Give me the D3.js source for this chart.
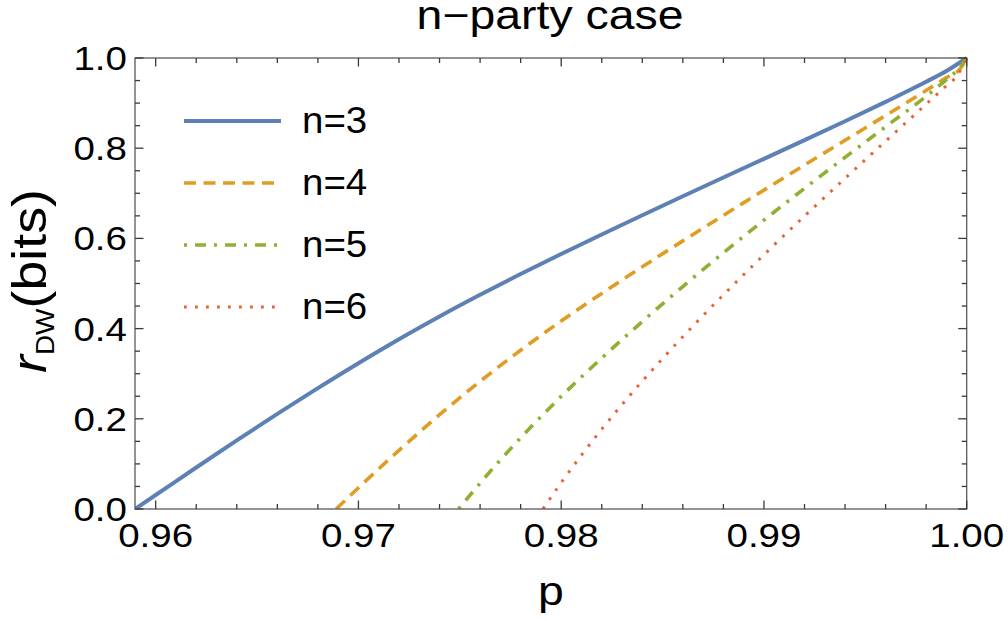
<!DOCTYPE html>
<html>
<head>
<meta charset="utf-8">
<script src="https://cdn.jsdelivr.net/npm/d3@7"></script>
<style>
  html, body { margin: 0; padding: 0; background: #fff; }
  svg { display: block; }
  text { font-family: "Liberation Sans", Arial, sans-serif; fill: #000; }
</style>
</head>
<body>
<svg id="chart" width="1008" height="621"></svg>
<script>
// Key rate r_DW (bits) versus p for the n-party case
const p3 = [0.95898, 0.960, 0.962, 0.964, 0.966, 0.968, 0.970, 0.972, 0.974, 0.976, 0.978, 0.980, 0.982, 0.984, 0.986, 0.988, 0.990, 0.992, 0.994, 0.996, 0.998, 0.999, 1.000];
const r3 = [0, 0.031, 0.092, 0.152, 0.211, 0.268, 0.3233, 0.3765, 0.4269, 0.4749, 0.5209, 0.5654, 0.6088, 0.6514, 0.6934, 0.735, 0.7764, 0.8178, 0.8598, 0.9028, 0.9474, 0.9712, 1.0];

const p4 = [0.9689, 0.970, 0.972, 0.974, 0.976, 0.978, 0.980, 0.982, 0.984, 0.986, 0.988, 0.990, 0.992, 0.994, 0.996, 0.998, 0.999, 0.9997, 1.0];
const r4 = [0, 0.047, 0.130, 0.209, 0.283, 0.352, 0.417, 0.478, 0.537, 0.5945, 0.651, 0.707, 0.7625, 0.8175, 0.8725, 0.928, 0.9565, 0.9775, 1.0];

const p5 = [0.97494, 0.976, 0.977, 0.978, 0.979, 0.980, 0.982, 0.984, 0.986, 0.988, 0.990, 0.992, 0.994, 0.996, 0.998, 0.999, 0.9996, 1.0];
const r5 = [0, 0.0572, 0.1087, 0.1577, 0.2047, 0.2497, 0.3347, 0.4157, 0.4933, 0.5681, 0.6405, 0.7109, 0.7797, 0.8475, 0.9151, 0.952, 0.976, 1.0];

const p6 = [0.9791, 0.980, 0.981, 0.982, 0.983, 0.984, 0.985, 0.986, 0.987, 0.988, 0.989, 0.990, 0.992, 0.994, 0.996, 0.998, 0.999, 0.9995, 1.0];
const r6 = [0, 0.0585, 0.1195, 0.177, 0.2315, 0.2835, 0.3335, 0.382, 0.429, 0.4748, 0.5196, 0.5636, 0.6496, 0.7332, 0.8156, 0.8976, 0.9386, 0.9594, 1.0];

const seriesNames = ["n=3", "n=4", "n=5", "n=6"];
const xTickValues = [0.96, 0.97, 0.98, 0.99, 1.00];
const xTickLabels = ["0.96", "0.97", "0.98", "0.99", "1.00"];
const yTickValues = [0, 0.2, 0.4, 0.6, 0.8, 1.0];
const yTickLabels = ["0.0", "0.2", "0.4", "0.6", "0.8", "1.0"];

const series = [
  { name: seriesNames[0], p: p3, r: r3, color: "#5E81B5", width: 4,   dash: null },
  { name: seriesNames[1], p: p4, r: r4, color: "#E19C24", width: 3.6, dash: "12,7.5" },
  { name: seriesNames[2], p: p5, r: r5, color: "#8FB032", width: 3.6, dash: "3,8,11,8" },
  { name: seriesNames[3], p: p6, r: r6, color: "#EB6235", width: 3,   dash: "2.8,8.2" }
];

const svg = d3.select("#chart");
const plotL = 135, plotR = 966.7, plotT = 58, plotB = 509;

const x = d3.scaleLinear().domain([0.95898, 1.0]).range([plotL, plotR]);
const y = d3.scaleLinear().domain([0, 1]).range([plotB, plotT]);

// plot region clip
svg.append("defs").append("clipPath").attr("id", "plotClip")
  .append("rect").attr("x", plotL).attr("y", plotT - 2)
  .attr("width", plotR - plotL + 2).attr("height", plotB - plotT + 2);

// curves
const line = d3.line()
  .x(d => x(d[0]))
  .y(d => y(d[1]))
  .curve(d3.curveMonotoneX);

const curves = svg.append("g").attr("clip-path", "url(#plotClip)");
series.forEach(s => {
  const pts = s.p.map((pv, i) => [pv, s.r[i]]);
  curves.append("path")
    .attr("d", line(pts))
    .attr("fill", "none")
    .attr("stroke", s.color)
    .attr("stroke-width", s.width)
    .attr("stroke-linecap", "butt")
    .attr("stroke-linejoin", "round")
    .attr("stroke-dasharray", s.dash);
});

// frame
svg.append("rect")
  .attr("x", plotL).attr("y", plotT)
  .attr("width", plotR - plotL).attr("height", plotB - plotT)
  .attr("fill", "none").attr("stroke", "#5a5a5a").attr("stroke-width", 1.3);

// ticks on all four sides (pointing inward)
const xMinor = d3.range(0.960, 1.0001, 0.002);
const yMinor = d3.range(0, 1.0001, 0.05);
const isMajor = (v, step) => Math.abs(v / step - Math.round(v / step)) < 1e-6;
const tickG = svg.append("g").attr("stroke", "#3a3a3a").attr("stroke-width", 1.3);

xMinor.forEach(v => {
  const len = isMajor(v, 0.01) ? 8.5 : 5;
  const xx = x(v);
  tickG.append("line").attr("x1", xx).attr("x2", xx).attr("y1", plotB).attr("y2", plotB - len);
  tickG.append("line").attr("x1", xx).attr("x2", xx).attr("y1", plotT).attr("y2", plotT + len);
});
yMinor.forEach(v => {
  const len = isMajor(v, 0.2) ? 8.5 : 5;
  const yy = y(v);
  tickG.append("line").attr("x1", plotL).attr("x2", plotL + len).attr("y1", yy).attr("y2", yy);
  tickG.append("line").attr("x1", plotR).attr("x2", plotR - len).attr("y1", yy).attr("y2", yy);
});

// helper for horizontally widened text
function label(g, tx, ty, str, size, sx, anchor) {
  return g.append("text")
    .attr("transform", `translate(${tx},${ty}) scale(${sx},1)`)
    .attr("text-anchor", anchor)
    .style("font-size", size + "px")
    .text(str);
}

// tick labels
const lab = svg.append("g");
xTickValues.forEach((v, i) => label(lab, x(v), 547, xTickLabels[i], 33.5, 1.15, "middle"));
yTickValues.forEach((v, i) => label(lab, 127, y(v) + 12, yTickLabels[i], 33.5, 1.15, "end"));

// title and axis labels
label(svg, 550, 29, "n\u2212party case", 40, 1.16, "middle");
label(svg, 551, 604.5, "p", 40, 1.16, "middle");

const yl = svg.append("text")
  .attr("transform", "translate(46,281) rotate(-90) scale(1.12,1)")
  .attr("text-anchor", "middle")
  .style("font-size", "48px");
yl.append("tspan").style("font-style", "italic").text("r");
yl.append("tspan").attr("dy", 8).style("font-size", "25px").text("DW");
yl.append("tspan").attr("dy", -8).text("(bits)");

// legend
const legendRows = [121, 183, 245, 307];
const leg = svg.append("g");
series.forEach((s, i) => {
  const ly = legendRows[i];
  leg.append("line")
    .attr("x1", 184).attr("x2", 281).attr("y1", ly).attr("y2", ly)
    .attr("stroke", s.color).attr("stroke-width", s.width)
    .attr("stroke-linecap", "butt")
    .attr("stroke-dasharray", s.dash);
  label(leg, 302, ly + 11.5, s.name, 37, 1.04, "start");
});
</script>
</body>
</html>
